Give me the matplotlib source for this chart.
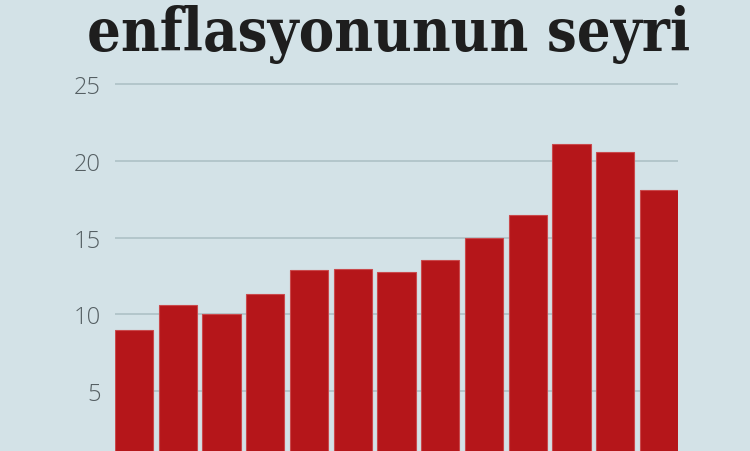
import matplotlib.pyplot as plt

# yearly inflation values (13 bars, no x labels visible)
positions = list(range(13))
values = [9.0, 10.6, 10.05, 11.3, 12.9, 12.95, 12.75, 13.55, 15.0, 16.5, 21.1, 20.6, 18.1]
yticks = [5, 10, 15, 20, 25]
title = "enflasyonunun seyri"

bg = "#d3e2e7"
bar_color = "#b5161a"

fig = plt.figure(figsize=(7.5, 4.52), dpi=100, facecolor=bg)
# axes goes past the bottom edge: the zero line is cut off in the original
ax = fig.add_axes([115 / 750, (452 - 469) / 452, (678 - 115) / 750, 389 / 452])
ax.set_facecolor(bg)

ax.bar(positions, values, width=0.87, color=bar_color, edgecolor="#c9494c",
       linewidth=0.8, zorder=3)

ax.set_xlim(-0.435, 12.435)
ax.set_ylim(0, (469 - 80) / 15.36)
ax.set_yticks(yticks)
ax.set_yticklabels([str(t) for t in yticks])
ax.set_xticks([])
ax.yaxis.grid(True, color="#b0c3c9", linewidth=1.3, zorder=0)
ax.set_axisbelow(True)
ax.tick_params(axis="y", length=0, pad=10, labelsize=17, labelcolor="#555f63")
for lab in ax.get_yticklabels():
    lab.set_fontfamily("Open Sans")
    lab.set_fontweight("light")
for s in ax.spines.values():
    s.set_visible(False)

fig.text(0.5 + 14 / 750, 1 - 51 / 452, title, ha="center", va="baseline",
         fontsize=42.7, fontweight="heavy", fontstretch="condensed",
         family="DejaVu Serif", color="#1e1e1e")

fig.savefig("out.png", dpi=100, facecolor=bg)
